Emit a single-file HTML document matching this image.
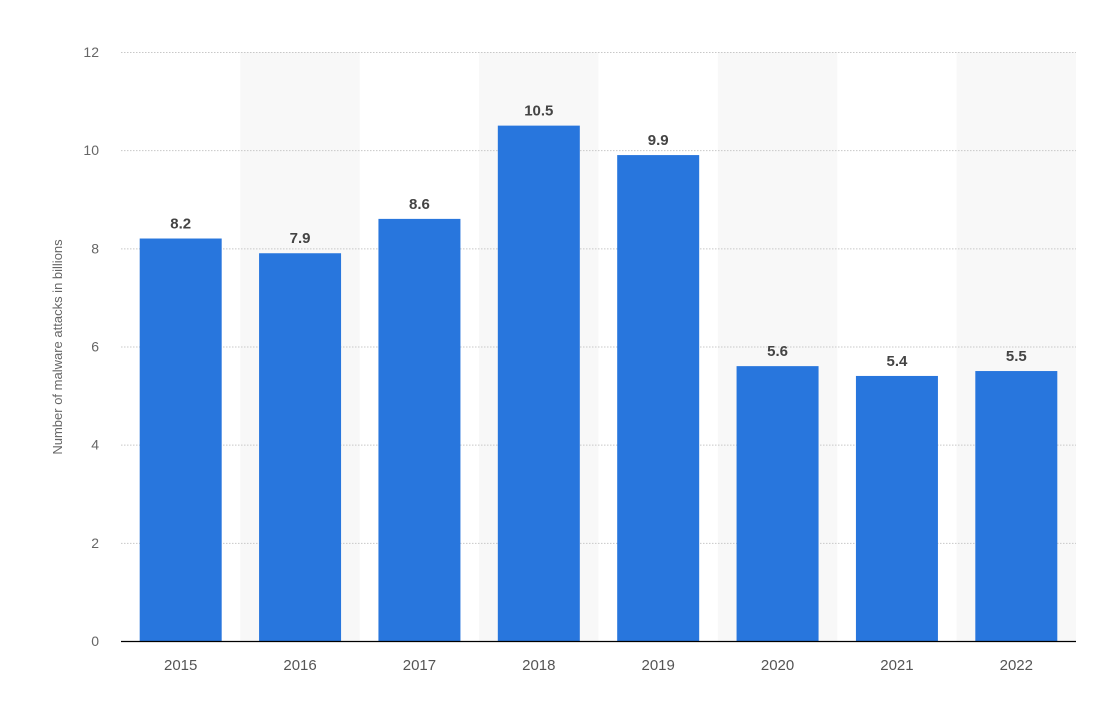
<!DOCTYPE html>
<html><head><meta charset="utf-8"><style>
body{margin:0;background:#fff;width:1098px;height:702px;overflow:hidden;font-family:"Liberation Sans",sans-serif}
</style></head><body>
<svg id="chart" width="1098" height="702" xmlns="http://www.w3.org/2000/svg">
<g id="bands"></g><g id="grid"></g><g id="bars"></g><g id="labels"></g><g id="xt"></g><g id="yt"></g>
<line x1="121" x2="1076" y1="641.5" y2="641.5" stroke="#000" stroke-width="1.3"/>
<text transform="translate(62,347) rotate(-90)" text-anchor="middle" font-size="13" fill="#666">Number of malware attacks in billions</text>
</svg>
<script>
const categories=["2015","2016","2017","2018","2019","2020","2021","2022"];
const values=[8.2,7.9,8.6,10.5,9.9,5.6,5.4,5.5];
const yTicks=[0,2,4,6,8,10,12];
const NS="http://www.w3.org/2000/svg";
const x0=121,x1=1076,yb=641,yt=52,ymax=12;
const bw=(x1-x0)/categories.length;
const y=v=>yb-(v/ymax)*(yb-yt);
const xc=i=>x0+bw*(i+0.5);
function mk(tag,attrs,parent,txt){const e=document.createElementNS(NS,tag);for(const k in attrs)e.setAttribute(k,attrs[k]);if(txt!=null)e.textContent=txt;document.getElementById(parent).appendChild(e);return e;}
categories.forEach((c,i)=>{if(i%2==1){const b=mk('rect',{x:x0+bw*i,y:yt,width:bw,height:yb-yt,fill:'#f8f8f8'},'bands');

}});
yTicks.forEach(t=>{if(t>0){const g=mk('line',{x1:x0,x2:x1,y1:y(t)+0.5,y2:y(t)+0.5,stroke:'#c8c8c8','stroke-dasharray':'1.5,1.5'},'grid');

}
const l=mk('text',{x:99,y:y(t)+5,'text-anchor':'end','font-size':'14',fill:'#666'},'yt',String(t));

});
categories.forEach((c,i)=>{const v=values[i];
const r=mk('rect',{x:xc(i)-41,y:y(v),width:82,height:yb-y(v),fill:'#2876dd'},'bars');


const t=mk('text',{x:xc(i),y:y(v)-10,'text-anchor':'middle','font-size':'15','font-weight':'bold',fill:'#444'},'labels',String(v));


const xl=mk('text',{x:xc(i),y:670,'text-anchor':'middle','font-size':'15',fill:'#555'},'xt',c);

});
</script>
</body></html>
